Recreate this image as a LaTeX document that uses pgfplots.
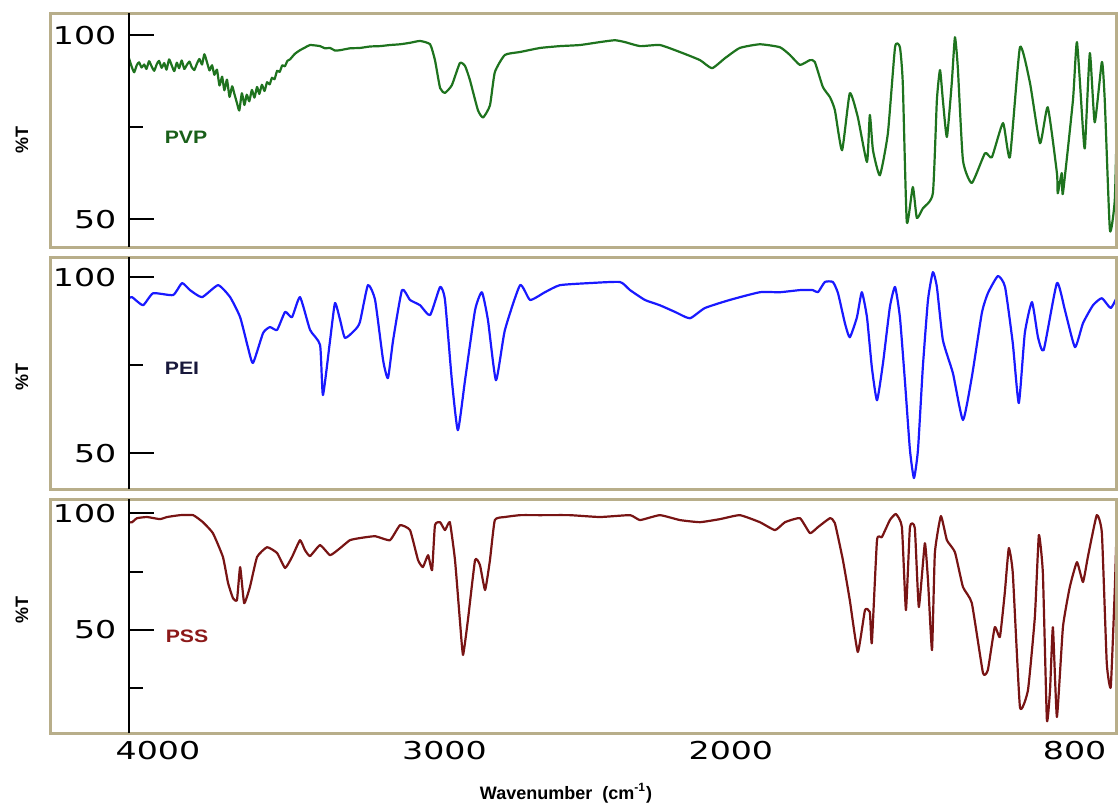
\documentclass[border=0pt]{standalone}
\usepackage{fontspec}
\setmainfont{Liberation Sans}
\newfontfamily\tickfont{DejaVu Sans}
\usepackage{graphicx}
\usepackage{pgfplots}
\pgfplotsset{compat=1.18}
\definecolor{frametan}{RGB}{184,174,138}
\definecolor{pvpgreen}{RGB}{30,115,30}
\definecolor{peiblue}{RGB}{25,25,255}
\definecolor{pssred}{RGB}{120,20,20}
\definecolor{pvplabel}{RGB}{25,95,25}
\definecolor{peilabel}{RGB}{25,25,60}
\definecolor{psslabel}{RGB}{140,25,25}
\newcommand{\tl}[1]{\scalebox{1.35}[1]{#1}}
\pgfplotsset{panel/.style={
  scale only axis, width=493.75pt, x dir=reverse, xmin=654, xmax=4101,
  axis line style={draw=none}, tick pos=left, tick align=inside,
  major tick length=12.5pt, minor tick length=7pt,
  every tick/.style={black, line width=1pt},
  xtick style={draw=none},
  ytick={50,100}, yticklabels={\tl{50},\tl{100}},
  yticklabel style={font=\tickfont\fontsize{12.3}{14}\selectfont, xshift=-2.8pt},
  xtick={4000,3000,2000,800}, xticklabels={},
}}
\begin{document}
\begin{tikzpicture}
\useasboundingbox (0,0) rectangle (559pt,-402.5pt);
% ---------------- PVP ----------------
\begin{axis}[panel, name=p1, at={(64.5pt,-123.5pt)}, anchor=south west,
  height=117pt, ymin=42.4, ymax=106.0, minor ytick={75}]
\addplot[pvpgreen, line width=1.1pt, line join=round, smooth, tension=0.3] coordinates {
(4101,93.7)(4092,91.5)(4083,89.9)(4074,91.8)(4066,92.6)(4057,91.2)(4048,92.0)
(4040,90.8)(4031,92.9)(4022,91.5)(4013,90.3)(4004,92.1)(3996,93.0)(3987,91.1)
(3978,92.4)(3970,90.6)(3961,93.4)(3952,91.8)(3943,90.2)(3934,92.5)(3926,91.0)
(3917,93.1)(3908,90.8)(3899,91.9)(3890,92.8)(3882,91.3)(3873,90.5)(3864,92.2)
(3855,93.5)(3846,92.0)(3838,94.8)(3829,92.7)(3820,90.4)(3811,91.8)(3803,89.2)
(3794,90.6)(3785,86.3)(3776,88.7)(3768,85.0)(3759,87.9)(3750,83.2)(3741,86.1)
(3733,84.0)(3724,81.5)(3716,79.5)(3707,84.2)(3698,81.0)(3690,83.8)(3681,82.0)
(3672,85.1)(3663,83.0)(3654,85.9)(3646,84.0)(3637,86.5)(3628,84.8)(3619,87.2)
(3610,86.6)(3602,88.4)(3593,88.0)(3584,90.3)(3575,90.0)(3566,91.8)(3557,91.5)
(3548,93.0)(3539,93.4)(3522,94.9)(3504,95.9)(3487,96.6)(3469,97.3)(3434,97.0)
(3417,96.4)(3399,96.5)(3382,95.8)(3364,95.9)(3330,96.4)(3295,96.5)(3260,96.9)
(3225,97.0)(3190,97.3)(3155,97.5)(3120,97.9)(3085,98.4)(3050,97.5)(3033,93.2)
(3015,85.6)(2998,84.3)(2974,86.4)(2946,92.4)(2928,91.6)(2911,87.8)(2883,79.6)
(2865,77.6)(2841,80.9)(2824,89.9)(2789,94.6)(2736,95.4)(2666,96.5)(2597,97.0)
(2527,97.3)(2457,98.1)(2405,98.6)(2370,98.1)(2317,97.0)(2248,97.3)(2178,95.4)
(2108,93.2)(2066,91.0)(2021,93.7)(1969,96.5)(1899,97.5)(1829,96.7)(1794,94.6)
(1759,91.9)(1724,93.2)(1707,92.7)(1679,85.9)(1654,83.1)(1637,79.6)(1612,68.7)
(1585,84.2)(1557,77.7)(1525,65.5)(1515,78.3)(1504,68.7)(1480,61.9)(1452,73.3)
(1427,96.7)(1410,96.7)(1400,87.0)(1386,49.2)(1365,58.7)(1351,50.3)(1330,52.9)
(1295,57.0)(1281,82.3)(1270,90.5)(1260,82.3)(1246,72.3)(1229,87.0)(1218,99.4)
(1208,91.3)(1190,66.0)(1159,59.8)(1113,67.9)(1089,66.8)(1050,76.1)(1026,66.8)
(991,96.7)(956,87.0)(921,70.6)(894,80.4)(862,62.5)(859,57.0)(845,62.5)
(841,57.0)(806,82.3)(792,98.1)(771,74.2)(764,69.6)(747,95.1)(730,76.3)
(705,92.7)(695,82.3)(677,47.0)(660,55.1)(653,76.1)
};
\end{axis}
% ---------------- PEI ----------------
\begin{axis}[panel, name=p2, at={(64.5pt,-244.5pt)}, anchor=south west,
  height=116pt, ymin=39.8, ymax=105.7, minor ytick={75}]
\addplot[peiblue, line width=1.1pt, line join=round, smooth, tension=0.3] coordinates {
(4101,94.0)(4090,94.3)(4052,92.0)(4017,95.4)(3947,94.9)(3916,98.3)(3888,96.3)
(3846,94.3)(3790,97.7)(3748,94.3)(3713,88.6)(3686,80.1)(3668,75.6)(3633,84.1)
(3609,85.8)(3584,85.0)(3556,90.1)(3532,88.6)(3504,94.3)(3469,85.0)(3434,80.7)
(3424,66.5)(3399,82.1)(3382,92.6)(3364,87.8)(3347,82.7)(3312,85.0)(3295,87.2)
(3267,97.7)(3242,93.5)(3214,76.4)(3197,71.3)(3179,82.1)(3148,96.3)(3120,93.5)
(3085,92.0)(3050,89.2)(3015,97.2)(2998,93.5)(2974,70.7)(2953,56.5)(2928,70.7)
(2893,90.6)(2869,95.7)(2848,87.8)(2820,70.7)(2789,84.9)(2736,97.7)(2701,93.5)
(2649,95.7)(2597,97.7)(2492,98.3)(2387,98.6)(2352,96.3)(2300,93.5)(2248,92.0)
(2195,90.1)(2143,88.3)(2091,91.2)(2004,93.5)(1899,95.7)(1829,95.7)(1759,96.3)
(1714,96.3)(1696,95.7)(1672,98.6)(1644,98.6)(1626,95.4)(1602,86.9)(1585,82.9)
(1560,88.6)(1543,95.7)(1525,88.6)(1508,74.4)(1490,65.0)(1469,75.6)(1445,91.5)
(1427,97.2)(1410,88.6)(1392,69.9)(1375,50.9)(1361,42.9)(1347,50.9)(1330,74.4)
(1312,93.5)(1295,101.4)(1281,97.2)(1260,82.1)(1225,72.7)(1190,59.4)(1159,71.6)
(1124,89.8)(1103,95.4)(1068,100.3)(1043,97.2)(1016,81.2)(995,64.2)(974,84.1)
(949,92.9)(928,82.9)(908,79.3)(862,98.3)(834,90.6)(799,80.1)(771,86.9)
(736,92.0)(705,94.0)(674,91.2)(649,94.9)
};
\end{axis}
% ---------------- PSS ----------------
\begin{axis}[panel, name=p3, at={(64.5pt,-366.5pt)}, anchor=south west,
  height=117pt, ymin=5.95, ymax=106.0, minor ytick={25,75},
  xticklabels={\tl{4000},\tl{3000},\tl{2000},\tl{800}},
  xticklabel style={font=\tickfont\fontsize{12.3}{14}\selectfont, yshift=-0.8pt}]
\addplot[pssred, line width=1.1pt, line join=round, smooth, tension=0.25] coordinates {
(4101,96.0)(4090,96.1)(4073,97.8)(4038,98.3)(3993,97.4)(3968,98.3)(3923,99.1)
(3877,99.1)(3843,96.1)(3808,91.4)(3773,81.2)(3755,70.0)(3738,63.6)(3724,62.8)
(3713,76.9)(3699,61.5)(3679,68.3)(3654,81.2)(3619,85.4)(3584,82.9)(3556,76.5)
(3532,81.2)(3504,88.4)(3487,84.2)(3469,81.6)(3434,86.3)(3399,82.0)(3364,85.0)
(3330,88.4)(3295,89.3)(3242,90.1)(3190,88.4)(3155,94.8)(3120,92.7)(3092,79.9)
(3075,76.9)(3057,82.0)(3043,75.6)(3033,94.8)(3015,96.1)(2998,92.7)(2981,96.1)
(2963,79.9)(2946,54.2)(2935,39.3)(2918,54.2)(2893,79.9)(2876,77.8)(2858,67.1)
(2841,79.9)(2824,97.0)(2789,98.3)(2736,99.1)(2666,99.1)(2562,99.1)(2457,98.3)
(2352,99.1)(2317,97.0)(2248,99.1)(2178,97.0)(2108,96.1)(2038,97.4)(1969,99.1)
(1899,96.1)(1846,92.7)(1811,96.1)(1759,97.8)(1724,91.4)(1696,94.0)(1654,97.8)
(1637,95.7)(1609,79.9)(1585,62.8)(1557,40.6)(1532,58.5)(1515,57.7)(1508,44.4)
(1490,88.4)(1473,89.7)(1445,97.0)(1424,99.6)(1403,94.0)(1389,58.5)(1375,94.0)
(1358,93.6)(1344,59.8)(1323,87.1)(1312,71.3)(1298,41.4)(1288,82.9)(1267,98.7)
(1246,88.4)(1218,83.3)(1190,68.4)(1159,61.5)(1120,31.6)(1103,32.9)(1079,51.2)
(1061,47.0)(1044,65.8)(1030,85.0)(1016,74.3)(991,17.0)(963,24.3)(939,55.5)
(925,90.6)(911,74.3)(897,11.5)(886,24.3)(876,51.2)(862,12.8)(841,51.2)
(817,68.4)(792,79.0)(771,70.5)(754,81.2)(723,99.1)(705,91.4)(688,35.9)
(674,25.6)(660,67.1)(653,95.7)
};
\end{axis}
% frames and y axis lines
\foreach \p in {p1,p2,p3}{
  \draw[frametan, line width=1.5pt] ([xshift=-39.5pt]\p.south west) rectangle (\p.north east);
  \draw[black, line width=1pt] (\p.south west) -- (\p.north west);
}
% labels
\node[font=\fontsize{9}{10}\bfseries\selectfont, pvplabel] at (93pt,-68.5pt) {\scalebox{1.18}[1]{PVP}};
\node[font=\fontsize{9}{10}\bfseries\selectfont, peilabel] at (91pt,-184pt) {\scalebox{1.18}[1]{PEI}};
\node[font=\fontsize{9}{10}\bfseries\selectfont, psslabel] at (93.5pt,-318pt) {\scalebox{1.18}[1]{PSS}};
\foreach \yy in {-70pt,-188.5pt,-305pt}{
  \node[rotate=90, font=\fontsize{9}{10}\bfseries\selectfont] at (11pt,\yy) {\%T};
}
\node[font=\fontsize{9}{10}\bfseries\selectfont] at (283pt,-396.5pt) {Wavenumber\ \ (cm\textsuperscript{-1})};
\end{tikzpicture}
\end{document}
